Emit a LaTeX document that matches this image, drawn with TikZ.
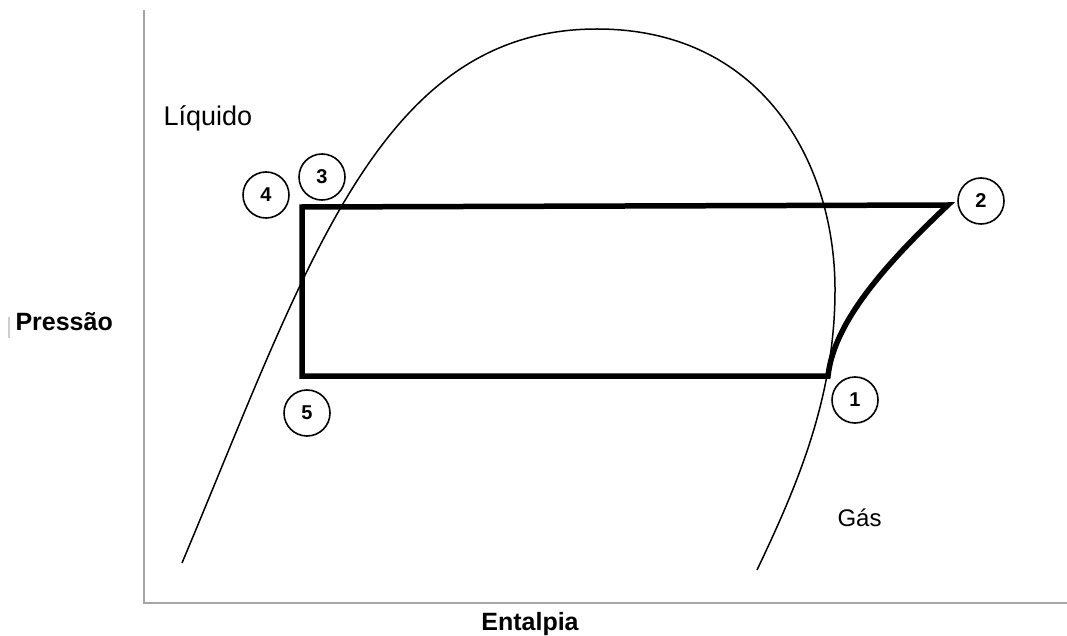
\documentclass[tikz,border=0pt]{standalone}
\usepackage{fontspec}
\setmainfont{Liberation Sans}
\begin{document}
\begin{tikzpicture}[x=1pt,y=-1pt,
    eixo/.style={gray!70,line width=2pt},
    ciclo/.style={line width=5.5pt,line join=miter},
    ponto/.style={circle,draw,line width=1.6pt,minimum size=46pt,inner sep=0pt,
      font=\bfseries\fontsize{20}{20}\selectfont},
    rotulo/.style={font=\fontsize{24}{24}\selectfont},
    titulo/.style={font=\bfseries\fontsize{25}{25}\selectfont}]
  \useasboundingbox (0,0) rectangle (1067,636);
  % eixos
  \coordinate (topo) at (144,10);
  \coordinate (origem) at (144,603);
  \coordinate (fim) at (1067,603);
  \draw[eixo] (topo)--(origem)--(fim);
  \draw[gray!40,line width=1.2pt] (9,317)--(9,338);
  % curva de saturacao
  \coordinate (base liq) at (182,563);
  \coordinate (pico) at (597,29);
  \coordinate (lado) at (835,290);
  \coordinate (base gas) at (757,570);
  \draw[line width=1.5pt] (base liq) .. controls (308,263) and (380,29) .. (pico)
    .. controls (760,29) and (835,160) .. (lado)
    .. controls (835,400) and (795,490) .. (base gas);
  % ciclo
  \coordinate (p1) at (828,376);
  \coordinate (p2) at (948,205);
  \coordinate (p4) at (302,207);
  \coordinate (p5) at (302,376);
  \draw[ciclo] (p5)--(p4)--(p2) .. controls (890,260) and (834,320) .. (p1)--cycle;
  \foreach \num/\px/\py in {1/855/400,2/981/201,3/322/177,4/266/195,5/307/413}
    \node[ponto] (c\num) at (\px,\py) {\num};
  \node[rotulo,anchor=west,font=\fontsize{27}{27}\selectfont] (liquido) at (160,118) {Líquido};
  \node[rotulo,anchor=west] (gas) at (834,518) {Gás};
  \node[titulo,anchor=base west] (pressao) at (12,330) {Pressão};
  \node[titulo,anchor=base] (entalpia) at (530,630) {Entalpia};
\end{tikzpicture}
\end{document}
